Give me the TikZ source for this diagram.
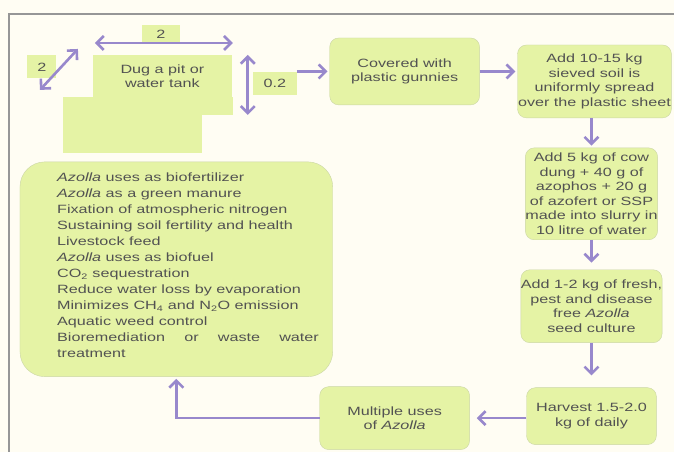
\documentclass[tikz,border=0pt]{standalone}
\usepackage{fontspec}
\setmainfont{Liberation Sans}[FakeStretch=1.35]
\usetikzlibrary{arrows.meta,positioning}

\definecolor{paper}{RGB}{255,253,243}
\definecolor{leaf}{RGB}{229,243,165}
\definecolor{leafline}{RGB}{203,214,165}
\definecolor{lilac}{RGB}{152,136,204}
\definecolor{ink}{RGB}{82,82,82}
\definecolor{rule}{RGB}{150,150,150}

\tikzset{
  stepbox/.style={draw=leafline, fill=leaf, rounded corners=9pt, align=center,
    inner sep=0pt, text=ink, font=\fontsize{12}{14.5}\selectfont},
  tag/.style={fill=leaf, inner sep=0pt, align=center, text=ink,
    font=\fontsize{12}{14}\selectfont},
  flow/.style={draw=lilac, line width=2.6pt, shorten >=2pt,
    -{Straight Barb[length=7pt,width=14pt]}},
  span/.style={draw=lilac, line width=2.6pt,
    {Straight Barb[length=7pt,width=14pt]}-{Straight Barb[length=7pt,width=14pt]}},
}

\begin{document}
\begin{tikzpicture}[x=1pt,y=-1pt]
  \fill[paper] (0,0) rectangle (675,452);
  \draw[rule, line width=1.2pt] (9,452) -- (9,14) -- (675,14);

  % the pit and its sizes
  \node[tag, minimum width=139pt, minimum height=56pt] (pitbase) at (132.5,125) {};
  \node[tag, minimum width=33pt, minimum height=18pt] (pitstep) at (216.5,106) {};
  \node[tag, minimum width=139pt, minimum height=42pt] (pit) at (162.5,76)
    {Dug a pit or\\water tank};
  \node[tag, minimum width=38pt, minimum height=18pt] (lentag) at (161,34) {2};
  \node[tag, minimum width=29pt, minimum height=23pt] (widtag) at (42,67) {2};
  \node[tag, minimum width=44pt, minimum height=23pt] (deptag) at (275,83.5) {0.2};

  \coordinate (lenA) at (95,43);
  \coordinate (lenB) at (233,43);
  \coordinate (widA) at (40,90);
  \coordinate (widB) at (78,49);
  \coordinate (depA) at (248,55);
  \coordinate (depB) at (248,115);
  \draw[span] (lenA) -- (lenB);
  \draw[span] (widA) -- (widB);
  \draw[span] (depA) -- (depB);

  % steps
  \node[stepbox, minimum width=150pt, minimum height=67pt] (cover) at (405,71.5)
    {Covered with\\plastic gunnies};
  \node[stepbox, minimum width=154pt, minimum height=73pt] (soil) at (595,81.5)
    {Add 10-15 kg\\sieved soil is\\uniformly spread\\over the plastic sheet};
  \node[stepbox, minimum width=130pt, minimum height=92pt] (dung) at (592,194)
    {Add 5 kg of cow\\dung + 40 g of\\azophos + 20 g\\of azofert or SSP\\made into slurry in\\10 litre of water};
  \node[stepbox, minimum width=130pt, minimum height=73pt] (seed) at (592,306.5)
    {Add 1-2 kg of fresh,\\pest and disease\\free \textit{Azolla}\\seed culture};
  \node[stepbox, minimum width=130pt, minimum height=57pt] (harvest) at (592,416.5)
    {Harvest 1.5-2.0\\kg of daily};
  \node[stepbox, minimum width=150pt, minimum height=63pt] (multi) at (395,418.5)
    {Multiple uses\\of \textit{Azolla}};

  % list of uses
  \node[stepbox, rounded corners=25pt, minimum width=313pt, minimum height=215pt]
    (uses) at (176.5,269.5) {};
  \node[anchor=north west, text width=262pt, align=justify, inner sep=0pt, text=ink,
    font=\fontsize{12}{16}\selectfont] (usetext) at (57,173)
    {\textit{Azolla} uses as biofertilizer\par
     \textit{Azolla} as a green manure\par
     Fixation of atmospheric nitrogen\par
     Sustaining soil fertility and health\par
     Livestock feed\par
     \textit{Azolla} uses as biofuel\par
     CO\textsubscript{2} sequestration\par
     Reduce water loss by evaporation\par
     Minimizes CH\textsubscript{4} and N\textsubscript{2}O emission\par
     Aquatic weed control\par
     Bioremediation or waste water \mbox{treatment}};

  \draw[flow] (deptag.east |- cover.west) -- (cover.west);
  \draw[flow] (cover.east) -- (cover.east -| soil.west);
  \draw[flow] (dung.north |- soil.south) -- (dung.north);
  \draw[flow, shorten >=7pt] (dung.south) -- (seed.north);
  \draw[flow, shorten >=12pt] (seed.south) -- (harvest.north);
  \draw[flow, shorten >=7pt] (harvest.west |- multi.east) -- (multi.east);
  \draw[flow] (multi.west) -| (uses.south);
\end{tikzpicture}
\end{document}
